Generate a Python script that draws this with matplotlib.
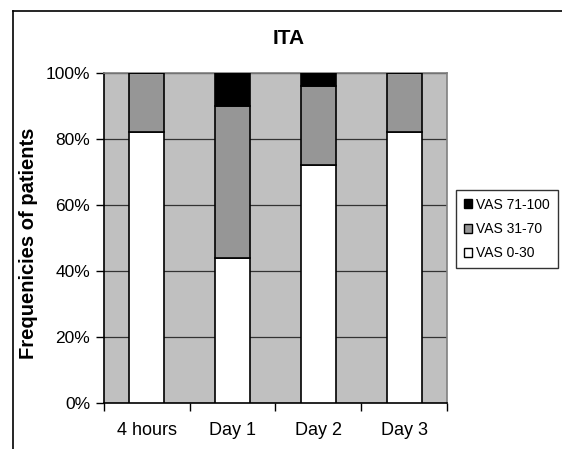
import matplotlib
matplotlib.use('Agg')
import matplotlib.pyplot as plt
from matplotlib.patches import Patch
import numpy as np

plt.rcParams['font.family'] = ['Liberation Sans', 'DejaVu Sans']

categories = ['4 hours', 'Day 1', 'Day 2', 'Day 3']
vas_0_30 = [82, 44, 72, 82]
vas_31_70 = [18, 46, 24, 18]
vas_71_100 = [0, 10, 4, 0]

PLOT_BG = '#C0C0C0'
MID_GRAY = '#969696'

W, H = 562, 449
fig = plt.figure(figsize=(W / 100, H / 100), dpi=100)
ax = fig.add_axes([104 / W, (H - 403) / H, 343 / W, 330 / H])
ax.set_facecolor(PLOT_BG)

x = np.arange(len(categories))
bw = 0.41
lo = np.array(vas_0_30)
mid = np.array(vas_31_70)
hi = np.array(vas_71_100)

ax.bar(x, lo, bw, color='white', edgecolor='black', linewidth=1.2, zorder=3)
ax.bar(x, mid, bw, bottom=lo, color=MID_GRAY, edgecolor='black', linewidth=1.2, zorder=3)
ax.bar(x, hi, bw, bottom=lo + mid, color='black', edgecolor='black', linewidth=1.2, zorder=3)

ax.set_xlim(-0.5, 3.5)
ax.set_ylim(0, 100)

ax.set_yticks(np.arange(0, 101, 20))
ax.set_yticklabels([f'{v}%' for v in range(0, 101, 20)], fontsize=12.5)
ax.yaxis.grid(True, color='#333333', linewidth=0.9, zorder=1)
ax.set_axisbelow(True)
ax.tick_params(axis='y', length=6, width=1, pad=4, direction='out')

ax.set_xticks(x)
ax.set_xticklabels(categories, fontsize=13)
ax.set_xticks(np.arange(-0.5, 4, 1), minor=True)
ax.tick_params(axis='x', which='major', length=0, pad=14)
ax.tick_params(axis='x', which='minor', length=6, width=1, direction='out')

for side in ('top', 'right'):
    ax.spines[side].set_color('#808080')
    ax.spines[side].set_linewidth(1.2)
for side in ('left', 'bottom'):
    ax.spines[side].set_color('black')
    ax.spines[side].set_linewidth(1.2)

fig.text(289 / W, 1 - 39 / H, 'ITA', fontsize=15, fontweight='bold',
         ha='center', va='center')
fig.text(29 / W, 1 - 243 / H, 'Frequenicies of patients', fontsize=14.5,
         fontweight='bold', rotation=90, ha='center', va='center')

# chart frame: top and left edges only
fig.add_artist(plt.Line2D([13 / W, 1], [1 - 11 / H, 1 - 11 / H],
                          transform=fig.transFigure, color='black', lw=1.2))
fig.add_artist(plt.Line2D([13 / W, 13 / W], [0, 1 - 11 / H],
                          transform=fig.transFigure, color='black', lw=1.2))

handles = [Patch(facecolor='black', edgecolor='black', label='VAS 71-100'),
           Patch(facecolor=MID_GRAY, edgecolor='black', label='VAS 31-70'),
           Patch(facecolor='white', edgecolor='black', label='VAS 0-30')]
leg = fig.legend(handles=handles, loc='upper left',
                 bbox_to_anchor=(456 / W, 1 - 190 / H), fontsize=10,
                 frameon=True, fancybox=False, edgecolor='black',
                 handlelength=0.6, handleheight=0.6, handletextpad=0.3,
                 labelspacing=0.75, borderpad=0.55, borderaxespad=0)
leg.get_frame().set_linewidth(1.0)

fig.savefig('out.png', dpi=100, facecolor='white')
